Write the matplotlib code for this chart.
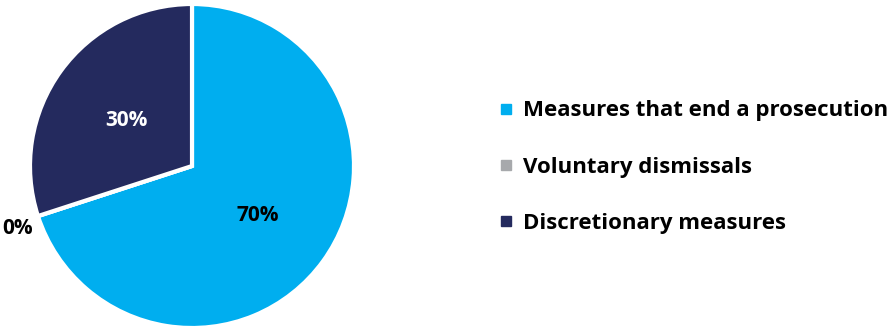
import numpy as np
import matplotlib
matplotlib.use("Agg")
import matplotlib.pyplot as plt
from matplotlib.lines import Line2D

categories = ["Measures that end a prosecution", "Voluntary dismissals", "Discretionary measures"]
shares = [70, 0, 30]
pct_labels = ["70%", "0%", "30%"]
colors = ["#00AEEF", "#A7A9AC", "#242A5E"]
label_colors = ["#000000", "#000000", "#FFFFFF"]

plt.rcParams["font.family"] = ["Open Sans", "DejaVu Sans"]

W, H = 888, 326
fig = plt.figure(figsize=(W / 100, H / 100), dpi=100)
ax = fig.add_axes([0, 0, 1, 1])

cx, cy, R = 192, H - 166, 162
wedges, _ = ax.pie(shares, colors=colors, startangle=90, counterclock=False,
                   center=(cx, cy), radius=R,
                   wedgeprops=dict(edgecolor="white", linewidth=3))
ax.set_xlim(0, W)
ax.set_ylim(0, H)
ax.set_aspect("equal")
ax.axis("off")

# Percent labels: inside for real slices, just outside the rim for empty ones
for w, v, lab, tc in zip(wedges, shares, pct_labels, label_colors):
    mid = np.deg2rad((w.theta1 + w.theta2) / 2)
    d = 0.5 if v > 0 else 1.13
    dy = -1.5 if v > 0 else -4.5
    ax.annotate(lab, (cx + d * R * np.cos(mid), cy + d * R * np.sin(mid)),
                xytext=(0, dy), textcoords="offset points",
                ha="center", va="center", fontsize=15, fontweight="bold", color=tc)

fs = 16
handles = [Line2D([], [], marker="s", linestyle="none", markersize=6.5,
                  markerfacecolor=c, markeredgecolor=c) for c in colors]
leg = fig.legend(handles, categories, loc="center left",
                 bbox_to_anchor=(501 / W, 1 - 167 / H), frameon=False,
                 borderpad=0, borderaxespad=0,
                 prop=dict(size=fs, weight="bold"), handlelength=0.48,
                 handletextpad=0.52, labelspacing=1.58)

fig.savefig("out.png", dpi=100, facecolor="white")
